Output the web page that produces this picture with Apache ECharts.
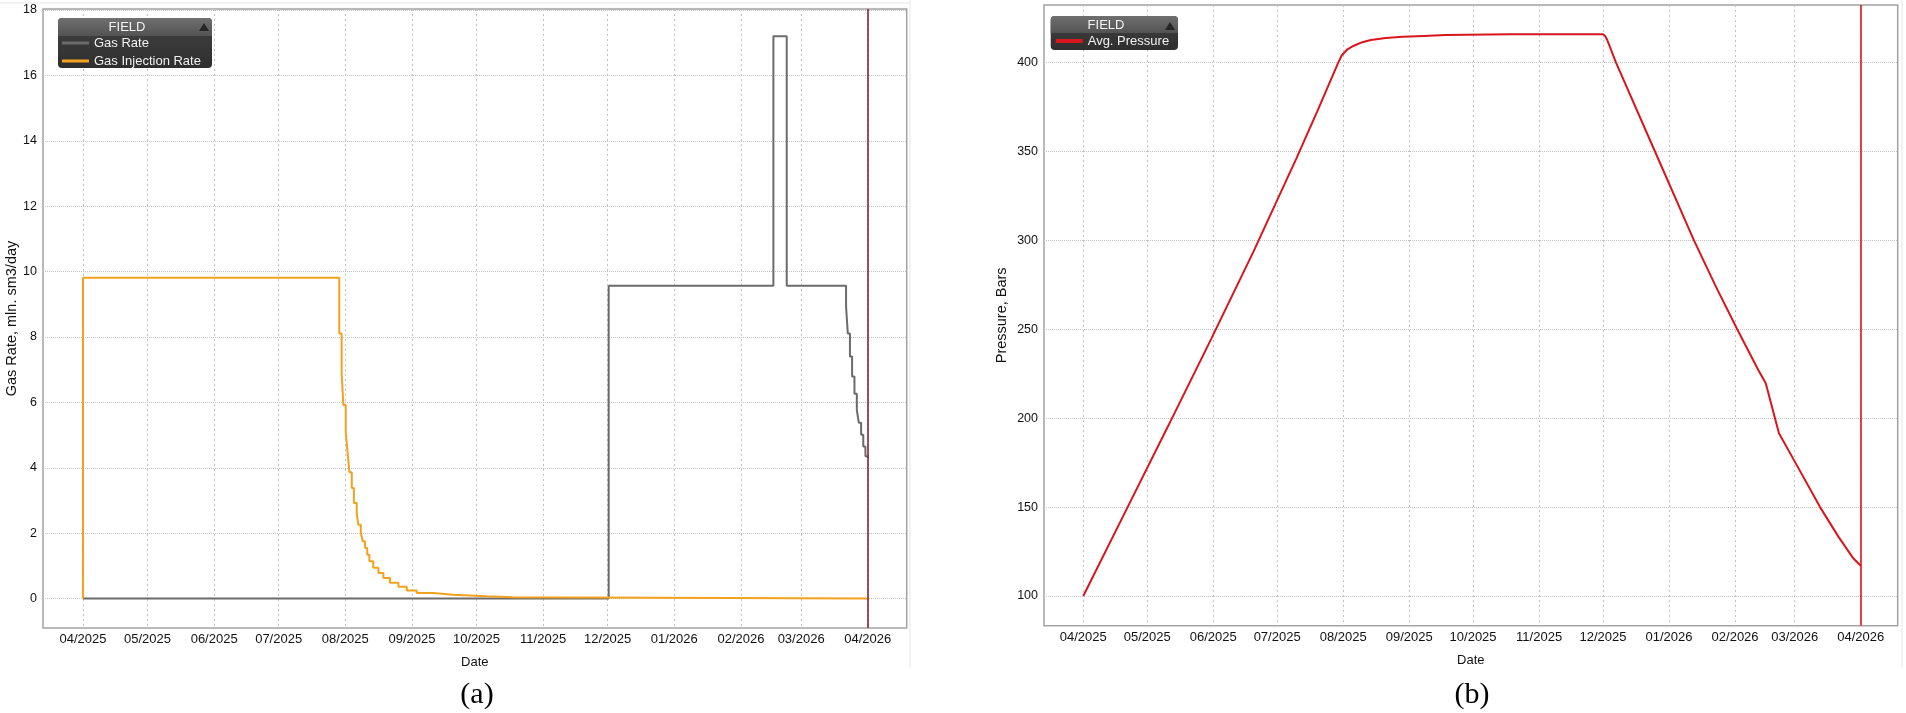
<!DOCTYPE html>
<html><head><meta charset="utf-8">
<script src="https://cdn.jsdelivr.net/npm/echarts@6/dist/echarts.min.js"></script>
<style>html,body{margin:0;padding:0;background:#fff}#c{width:1906px;height:713px}</style>
</head><body><div id="c"></div>
<script>
// ---- data (day offsets from 2025-04-01) ----
const monthTicks = ['2025-04-01','2025-05-01','2025-06-01','2025-07-01','2025-08-01','2025-09-01','2025-10-01','2025-11-01','2025-12-01','2026-01-01','2026-02-01','2026-03-01','2026-04-01'];
const reportDate = '2026-04-01';

const gasRateDays = [0, 244.5, 321.1, 327.3, 354.9, 355.7, 356.7, 357.7, 358.8, 359.9, 360.8, 361.9, 362.9, 363.9, 365];
const gasRateVals = [0, 9.57, 17.2, 9.57, 8.93, 8.11, 7.40, 6.79, 6.26, 5.77, 5.38, 5.01, 4.65, 4.35, 4.30];

const gasInjDays = [0, 0, 119.2, 120.3, 121.1, 122.2, 123.1, 123.9, 125.0, 126.0, 127.3, 128.0, 129.2, 130.1, 131.2, 132.2, 133.2, 135.0, 137.4, 139.7, 142.8, 146.7, 150.6, 155.2, 163, 172, 187.8, 200, 365];
const gasInjVals = [0, 9.81, 8.11, 6.89, 5.92, 5.08, 4.45, 3.86, 3.38, 2.92, 2.62, 2.26, 2.01, 1.75, 1.55, 1.34, 1.14, 0.94, 0.78, 0.63, 0.48, 0.36, 0.25, 0.17, 0.12, 0.07, 0.04, 0, 0];

const pressureDays = [0, 20, 40, 60, 80, 90, 100, 110, 119.7, 121.3, 124, 127, 131, 135, 142, 150, 160, 170, 200, 244, 245, 246, 250.1, 268.4, 286.7, 297, 307, 316.9, 320.4, 326.6, 334.5, 345.9, 354.5, 361.5, 365];
const pressureVals = [100, 148, 196, 244.5, 294, 320, 346, 373, 400, 404, 407.5, 409.5, 411.5, 412.7, 413.8, 414.5, 415, 415.5, 416, 416, 415, 412.7, 400, 350, 300, 274, 250, 227.1, 219.6, 191.5, 174.6, 150, 133.4, 121.2, 117];

const gasRateTicks = [0, 2, 4, 6, 8, 10, 12, 14, 16, 18];
const pressureTicks = [100, 150, 200, 250, 300, 350, 400];

// ---- helpers ----
function dayOf(s){ const p = s.split('-').map(Number); return (Date.UTC(p[0],p[1]-1,p[2]) - Date.UTC(2025,3,1)) / 86400000; }
const tickDays = monthTicks.map(dayOf);
const labelOf = {};
monthTicks.forEach(s => { labelOf[dayOf(s)] = s.slice(5,7) + '/' + s.slice(0,4); });
const reportDay = dayOf(reportDate);
const FF = "'Liberation Sans', Arial, sans-serif";
const pairs = (xs, ys) => xs.map((x, i) => [x, ys[i]]);

function xAxisCfg(gi, min, max){
  return {
    type:'value', gridIndex:gi, min:min, max:max,
    axisLine:{show:false},
    axisTick:{show:false, customValues:tickDays},
    axisLabel:{customValues:tickDays, formatter:v => labelOf[Math.round(v)] || '', color:'#111', fontSize:13, fontFamily:FF, margin:5},
    splitLine:{show:true, lineStyle:{color:'#c2c2c2', type:[2,3], width:1}},
    name:'Date', nameLocation:'middle', nameGap:28,
    nameTextStyle:{color:'#111', fontSize:13, fontFamily:FF}
  };
}
function yAxisCfg(gi, min, max, ticks, name, gap){
  return {
    type:'value', gridIndex:gi, min:min, max:max,
    axisLine:{show:false},
    axisTick:{show:false, customValues:ticks},
    axisLabel:{customValues:ticks, color:'#111', fontSize:12.5, fontFamily:FF, margin:6},
    splitLine:{show:true, lineStyle:{color:'#c2c2c2', type:[1,1], width:1}},
    name:name, nameLocation:'middle', nameGap:gap, nameRotate:90,
    nameTextStyle:{color:'#111', fontSize:14.5, fontFamily:FF}
  };
}

const chart = echarts.init(document.getElementById('c'), null, {renderer:'canvas'});
const hdrGrad = {type:'linear', x:0, y:0, x2:0, y2:1, colorStops:[{offset:0, color:'#707070'},{offset:1, color:'#535353'}]};
const bodyGrad = {type:'linear', x:0, y:0, x2:0, y2:1, colorStops:[{offset:0, color:'#444444'},{offset:1, color:'#2e2e2e'}]};

chart.setOption({
  animation:false,
  backgroundColor:'#ffffff',
  grid:[
    {left:43, top:9, width:863.7, height:619, show:true, borderColor:'#a3a3a3', borderWidth:1.5, backgroundColor:'transparent', outerBoundsMode:'none'},
    {left:1044, top:5, width:853.7, height:620.7, show:true, borderColor:'#a3a3a3', borderWidth:1.5, backgroundColor:'transparent', outerBoundsMode:'none'}
  ],
  xAxis:[ xAxisCfg(0, -18.6, 383.1), xAxisCfg(1, -18.45, 382.35) ],
  yAxis:[
    yAxisCfg(0, -0.9, 18.03, gasRateTicks, 'Gas Rate, mln. sm3/day', 24),
    yAxisCfg(1, 83.3, 432.4, pressureTicks, 'Pressure, Bars', 35)
  ],
  legend:[
    {data:['Gas Rate','Gas Injection Rate'], orient:'vertical', left:58, top:18, padding:[18,10,1,4],
     itemWidth:27, itemHeight:3, itemGap:4, icon:'rect', selectedMode:false, z:7,
     textStyle:{color:'#f0f0f0', fontSize:13, fontFamily:FF, lineHeight:14}},
    {data:['Avg. Pressure'], orient:'vertical', left:1050.7, top:16, padding:[18,6,2,5],
     itemWidth:27, itemHeight:4, itemGap:4, icon:'rect', selectedMode:false, z:7,
     textStyle:{color:'#f0f0f0', fontSize:13, fontFamily:FF, lineHeight:14}}
  ],
  graphic:[
    {type:'line', z:1, shape:{x1:0, y1:3, x2:910, y2:3}, style:{stroke:'#e6e6e6', lineWidth:1}},
    {type:'line', z:1, shape:{x1:910, y1:0, x2:910, y2:668}, style:{stroke:'#e6e6e6', lineWidth:1}},
    {type:'line', z:1, shape:{x1:1902, y1:0, x2:1902, y2:668}, style:{stroke:'#e6e6e6', lineWidth:1}},
    {type:'rect', z:5, shape:{x:58, y:18, width:154, height:50, r:4}, style:{fill:bodyGrad}},
    {type:'rect', z:5, shape:{x:58, y:18, width:154, height:18, r:[4,4,0,0]}, style:{fill:hdrGrad}},
    {type:'text', z:6, x:127, y:27.5, style:{text:'FIELD', fill:'#f2f2f2', font:'13px ' + FF, align:'center', verticalAlign:'middle'}},
    {type:'polygon', z:6, shape:{points:[[199,31],[209,31],[204,23]]}, style:{fill:'#262626'}},
    {type:'rect', z:5, shape:{x:1050.7, y:16, width:127.3, height:34, r:4}, style:{fill:bodyGrad}},
    {type:'rect', z:5, shape:{x:1050.7, y:16, width:127.3, height:17, r:[4,4,0,0]}, style:{fill:hdrGrad}},
    {type:'text', z:6, x:1106, y:25, style:{text:'FIELD', fill:'#f2f2f2', font:'13px ' + FF, align:'center', verticalAlign:'middle'}},
    {type:'polygon', z:6, shape:{points:[[1165,30],[1175,30],[1170,22]]}, style:{fill:'#262626'}},
    {type:'text', z:6, x:477, y:695, style:{text:'(a)', fill:'#000', font:"30px 'Liberation Serif', 'Times New Roman', serif", align:'center', verticalAlign:'middle'}},
    {type:'text', z:6, x:1472, y:695, style:{text:'(b)', fill:'#000', font:"30px 'Liberation Serif', 'Times New Roman', serif", align:'center', verticalAlign:'middle'}}
  ],
  series:[
    {name:'Gas Rate', type:'line', xAxisIndex:0, yAxisIndex:0, step:'end', symbol:'none',
     color:'#6b6b6b', itemStyle:{color:'#6b6b6b'}, lineStyle:{color:'#6b6b6b', width:2},
     data:pairs(gasRateDays, gasRateVals)},
    {name:'Gas Injection Rate', type:'line', xAxisIndex:0, yAxisIndex:0, step:'end', symbol:'none',
     color:'#f4a21d', itemStyle:{color:'#f4a21d'}, lineStyle:{color:'#f4a21d', width:2},
     data:pairs(gasInjDays, gasInjVals),
     markLine:{silent:true, symbol:['none','none'], label:{show:false}, animation:false,
       lineStyle:{color:'#8e1f35', width:1.6, type:'solid'}, emphasis:{disabled:true},
       data:[{xAxis:reportDay}]}},
    {name:'Avg. Pressure', type:'line', xAxisIndex:1, yAxisIndex:1, symbol:'none',
     color:'#d8161e', itemStyle:{color:'#d8161e'}, lineStyle:{color:'#d8161e', width:2},
     data:pairs(pressureDays, pressureVals),
     markLine:{silent:true, symbol:['none','none'], label:{show:false}, animation:false,
       lineStyle:{color:'#e3141b', width:1.6, type:'solid'}, emphasis:{disabled:true},
       data:[{xAxis:reportDay}]}}
  ]
});
</script></body></html>
